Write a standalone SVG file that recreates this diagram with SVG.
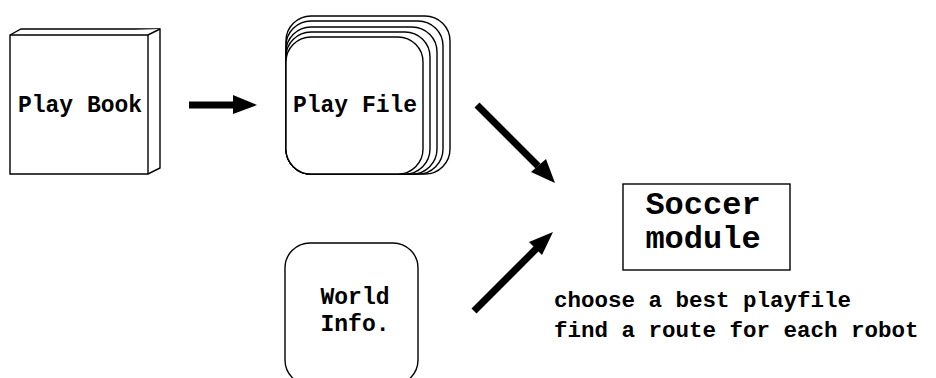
<svg xmlns="http://www.w3.org/2000/svg" width="936" height="378" viewBox="0 0 936 378">
<style>
.box{fill:#fff;stroke:#000;stroke-width:1.4}
.t{font-family:"Liberation Mono","Courier New",monospace;font-weight:bold;font-size:23px;fill:#000;text-anchor:middle}
.tl{font-family:"Liberation Mono","Courier New",monospace;font-weight:bold;font-size:22.5px;fill:#000}
.big{font-family:"Liberation Mono","Courier New",monospace;font-weight:bold;font-size:32px;fill:#000;text-anchor:middle}
.shaft{stroke:#000;stroke-width:7;fill:none}
.head{fill:#000}
</style>
<rect width="936" height="378" fill="#fff"/>
<g id="playbook">
<polygon class="box" points="10,35 21,29 160,29 160,168 148,174 10,174"/>
<polyline class="box" points="10,35 148,35 160,29" fill="none"/>
<line class="box" x1="148" y1="35" x2="148" y2="174"/>
<text class="t" x="80" y="112">Play Book</text>
</g>
<g id="playfile">
<rect class="box" x="286" y="16" width="164" height="158" rx="25"/>
<rect class="box" x="286" y="21" width="157" height="153" rx="25"/>
<rect class="box" x="286" y="27" width="151" height="147" rx="25"/>
<rect class="box" x="286" y="32" width="144" height="142" rx="25"/>
<rect class="box" x="286" y="37" width="137" height="137" rx="25"/>
<text class="t" x="355" y="112">Play File</text>
</g>
<g id="worldinfo">
<rect class="box" x="285" y="243" width="133" height="142" rx="25"/>
<text class="t" x="355" y="304">World</text>
<text class="t" x="355" y="331">Info.</text>
</g>
<g id="soccer">
<rect class="box" x="623" y="184" width="167" height="86"/>
<text class="big" x="703" y="214">Soccer</text>
<text class="big" x="703" y="248">module</text>
<text class="tl" x="554" y="307">choose a best playfile</text>
<text class="tl" x="554" y="337">find a route for each robot</text>
</g>
<g id="connectors">
<line class="shaft" x1="189" y1="105" x2="235" y2="105"/>
<polygon class="head" points="233,95 257,105 233,114"/>
<line class="shaft" x1="477" y1="105" x2="538" y2="166"/>
<polygon class="head" points="531,172 546,159 555,183"/>
<line class="shaft" x1="474" y1="311" x2="537" y2="248"/>
<polygon class="head" points="529,242 542,255 553,232"/>
</g>
</svg>
